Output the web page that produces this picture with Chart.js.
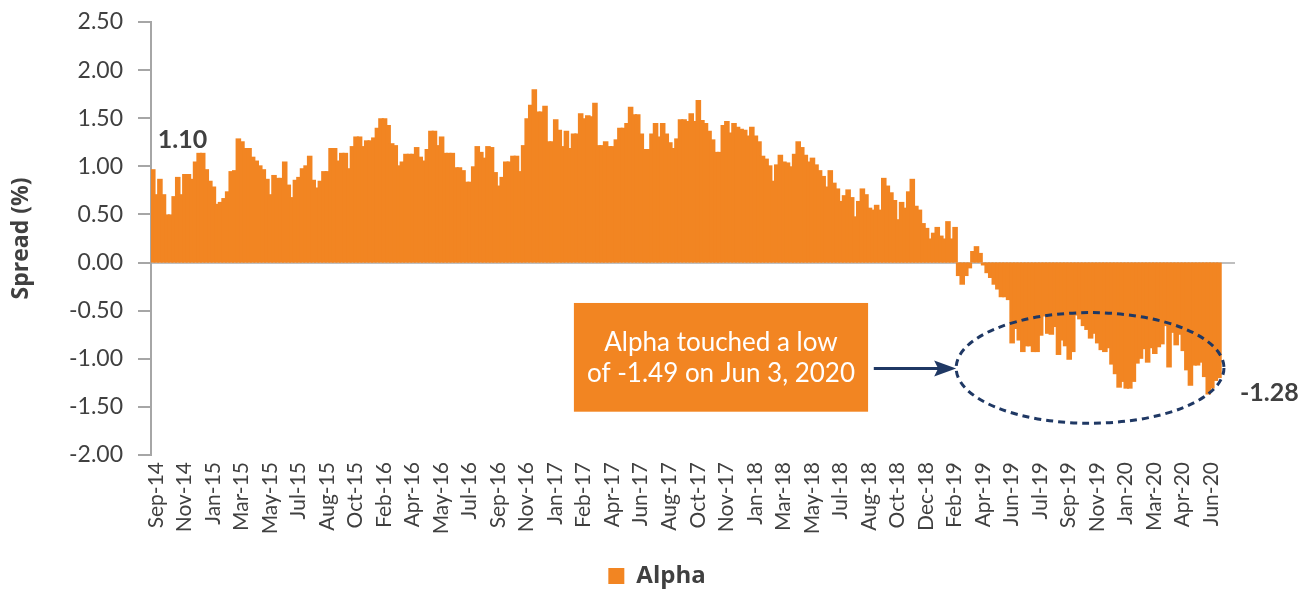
<!DOCTYPE html>
<html>
<head>
<meta charset="utf-8">
<script src="https://cdn.jsdelivr.net/npm/chart.js@4.4.1/dist/chart.umd.min.js"></script>
<style>
    html, body { margin: 0; padding: 0; background: #ffffff; }
</style>
</head>
<body>
<canvas id="graficoAlpha" width="1314" height="592"></canvas>
<script>
/* ==========================================================================
   1. DATOS (semanales, Sep-14 a Jun-20)
   ========================================================================== */
const etiquetasEje = ['Sep-14','Nov-14','Jan-15','Mar-15','May-15','Jul-15','Aug-15','Oct-15',
    'Feb-16','Apr-16','May-16','Jul-16','Sep-16','Nov-16','Jan-17','Feb-17','Apr-17','Jun-17',
    'Aug-17','Oct-17','Nov-17','Jan-18','Mar-18','May-18','Jul-18','Aug-18','Oct-18','Dec-18',
    'Feb-19','Apr-19','Jun-19','Jul-19','Sep-19','Nov-19','Jan-20','Mar-20','Apr-20','Jun-20'];

const alpha = [
    0.96,0.70,0.86,0.70,0.49,0.49,0.68,0.88,0.70,0.91,
    0.91,0.86,1.04,1.13,1.13,0.96,0.84,0.78,0.60,0.62,
    0.66,0.73,0.94,0.95,1.28,1.25,1.18,1.18,1.09,1.05,
    1.00,0.96,0.86,0.70,0.90,0.87,0.87,1.04,0.80,0.67,
    0.85,0.88,0.97,1.00,1.10,0.85,0.77,0.84,0.94,0.94,
    1.18,1.18,1.05,1.13,1.13,0.97,1.20,1.30,1.30,1.20,
    1.26,1.26,1.29,1.39,1.49,1.49,1.42,1.23,1.21,1.00,
    1.04,1.12,1.12,1.12,1.19,1.09,1.05,1.17,1.36,1.36,
    1.21,1.30,1.13,1.13,1.13,0.98,0.98,0.95,0.83,0.83,
    0.99,1.20,1.14,1.08,1.20,1.19,0.93,0.79,0.88,1.04,
    1.04,1.10,1.10,0.94,1.21,1.49,1.63,1.79,1.56,1.56,
    1.62,1.25,1.25,1.48,1.37,1.20,1.36,1.18,1.33,1.33,
    1.54,1.49,1.52,1.51,1.65,1.21,1.21,1.25,1.20,1.20,
    1.27,1.39,1.39,1.44,1.61,1.53,1.53,1.33,1.17,1.17,
    1.33,1.44,1.30,1.44,1.33,1.24,1.18,1.28,1.48,1.48,
    1.46,1.54,1.46,1.68,1.47,1.44,1.36,1.27,1.14,1.14,
    1.42,1.46,1.34,1.44,1.40,1.38,1.37,1.31,1.40,1.31,
    1.25,1.10,1.07,1.00,0.84,1.01,1.11,1.04,1.03,0.99,
    1.12,1.25,1.19,1.11,1.04,1.08,1.01,0.95,0.89,0.78,
    0.95,0.82,0.76,0.63,0.69,0.75,0.67,0.47,0.63,0.76,
    0.70,0.56,0.54,0.59,0.54,0.87,0.79,0.72,0.64,0.44,
    0.62,0.56,0.73,0.86,0.58,0.54,0.40,0.35,0.24,0.30,
    0.36,0.27,0.24,0.42,0.24,0.36,-0.13,-0.22,-0.13,-0.05,
    0.11,0.16,0.09,-0.02,-0.10,-0.15,-0.22,-0.27,-0.35,-0.35,
    -0.38,-0.83,-0.68,-0.80,-0.92,-0.86,-0.86,-0.92,-0.92,-0.75,
    -0.55,-0.73,-0.74,-0.66,-0.95,-0.80,-0.86,-1.00,-0.92,-0.54,
    -0.58,-0.65,-0.69,-0.78,-0.73,-0.83,-0.90,-0.92,-0.88,-1.05,
    -1.15,-1.29,-1.23,-1.30,-1.30,-1.23,-1.04,-0.99,-0.89,-1.03,
    -0.88,-0.94,-0.87,-0.84,-0.65,-1.08,-0.72,-0.85,-0.74,-0.91,
    -1.11,-1.27,-1.06,-1.06,-1.03,-1.18,-1.36,-1.30,-1.22,-1.19
];

const PASO_ETIQUETA = 8;     // una etiqueta cada 8 semanas
const TOTAL_SEMANAS = 304;   // el eje sigue unas semanas tras el último dato

const valorInicio = '1.10';
const valorFinal = '-1.28';
const textoNota = ['Alpha touched a low', 'of -1.49 on Jun 3, 2020'];

const NARANJA = '#F28522';
const AZUL = '#1F3864';
const GRIS_TEXTO = '#404040';
const GRIS_EJE = '#A6A6A6';

const categorias = Array.from({ length: TOTAL_SEMANAS }, (_, i) =>
    i % PASO_ETIQUETA === 0 ? (etiquetasEje[i / PASO_ETIQUETA] || '') : '');

/* ==========================================================================
   2. ANOTACIONES (etiquetas, recuadro, flecha y elipse)
   ========================================================================== */
const anotaciones = {
    id: 'anotaciones',
    afterDatasetsDraw(chart) {
        const { ctx, scales: { x, y } } = chart;
        ctx.save();

        // Valores inicial y final
        ctx.fillStyle = GRIS_TEXTO;
        ctx.font = 'bold 25px Lato';
        ctx.textAlign = 'left';
        ctx.textBaseline = 'middle';
        ctx.fillText(valorInicio, x.getPixelForValue(0) + 5, y.getPixelForValue(1.27));
        ctx.fillText(valorFinal, x.getPixelForValue(alpha.length - 1) + 21, y.getPixelForValue(-1.36));

        // Recuadro naranja con la nota
        const cx1 = x.getPixelForValue(118.1), cx2 = x.getPixelForValue(200.6);
        const cy1 = y.getPixelForValue(-0.42), cy2 = y.getPixelForValue(-1.55);
        ctx.fillStyle = NARANJA;
        ctx.fillRect(cx1, cy1, cx2 - cx1, cy2 - cy1);
        ctx.fillStyle = '#ffffff';
        ctx.font = '26px Lato';
        ctx.textAlign = 'center';
        const centroX = (cx1 + cx2) / 2, centroY = (cy1 + cy2) / 2;
        ctx.fillText(textoNota[0], centroX, centroY - 15);
        ctx.fillText(textoNota[1], centroX, centroY + 16);

        // Flecha
        const fy = y.getPixelForValue(-1.10);
        const fx1 = x.getPixelForValue(202.2), fx2 = x.getPixelForValue(225.3);
        ctx.strokeStyle = AZUL;
        ctx.fillStyle = AZUL;
        ctx.lineWidth = 3;
        ctx.beginPath();
        ctx.moveTo(fx1, fy);
        ctx.lineTo(fx2 - 14, fy);
        ctx.stroke();
        ctx.beginPath();
        ctx.moveTo(fx2, fy);
        ctx.lineTo(fx2 - 22, fy - 8);
        ctx.lineTo(fx2 - 18, fy);
        ctx.lineTo(fx2 - 22, fy + 8);
        ctx.closePath();
        ctx.fill();

        // Elipse punteada
        const ex1 = x.getPixelForValue(225.3), ex2 = x.getPixelForValue(300.4);
        const ey1 = y.getPixelForValue(-0.52), ey2 = y.getPixelForValue(-1.67);
        ctx.setLineDash([7, 5]);
        ctx.beginPath();
        ctx.ellipse((ex1 + ex2) / 2, (ey1 + ey2) / 2, (ex2 - ex1) / 2, (ey2 - ey1) / 2, 0, 0, Math.PI * 2);
        ctx.stroke();

        ctx.restore();
    }
};

/* ==========================================================================
   3. GRÁFICO
   ========================================================================== */
new Chart(document.getElementById('graficoAlpha'), {
    type: 'bar',
    data: {
        labels: categorias,
        datasets: [{
            label: 'Alpha',
            data: alpha,
            backgroundColor: NARANJA,
            borderWidth: 0,
            inflateAmount: 1,
            categoryPercentage: 1,
            barPercentage: 1
        }]
    },
    options: {
        responsive: false,
        animation: false,
        layout: { padding: { top: 22, left: 0, right: 0, bottom: -6 } },
        plugins: {
            tooltip: { enabled: false },
            legend: {
                position: 'bottom',
                labels: {
                    boxWidth: 16,
                    boxHeight: 16,
                    padding: 6,
                    color: GRIS_TEXTO,
                    font: { family: 'Open Sans', size: 24, weight: 'bold' }
                }
            }
        },
        scales: {
            x: {
                grid: { display: false, drawTicks: false },
                border: { display: false },
                ticks: {
                    autoSkip: false,
                    minRotation: 90,
                    maxRotation: 90,
                    padding: 7,
                    labelOffset: 3,
                    color: GRIS_TEXTO,
                    font: { family: 'Lato', size: 21 }
                },
                afterFit: s => { s.height = 103; }
            },
            y: {
                min: -2,
                max: 2.5,
                border: { display: true, color: GRIS_EJE, width: 2 },
                grid: {
                    color: c => (c.tick && c.tick.value === 0) ? '#BFBFBF' : 'rgba(0,0,0,0)',
                    lineWidth: 2,
                    tickColor: GRIS_EJE,
                    tickLength: 13
                },
                ticks: {
                    stepSize: 0.5,
                    padding: 15,
                    color: GRIS_TEXTO,
                    font: { family: 'Lato', size: 23, lineHeight: 0.6 },
                    callback: v => v.toFixed(2)
                },
                title: {
                    display: true,
                    text: 'Spread (%)',
                    color: GRIS_TEXTO,
                    font: { family: 'Open Sans', size: 23, weight: 'bold' },
                    padding: { top: 8, bottom: 0 }
                },
                afterFit: s => { s.width = 151; }
            },
            yDerecha: {
                type: 'linear',
                position: 'right',
                grid: { display: false },
                border: { display: false },
                ticks: { display: false },
                afterFit: s => { s.width = 79; }
            }
        }
    },
    plugins: [anotaciones]
});
</script>
</body>
</html>
